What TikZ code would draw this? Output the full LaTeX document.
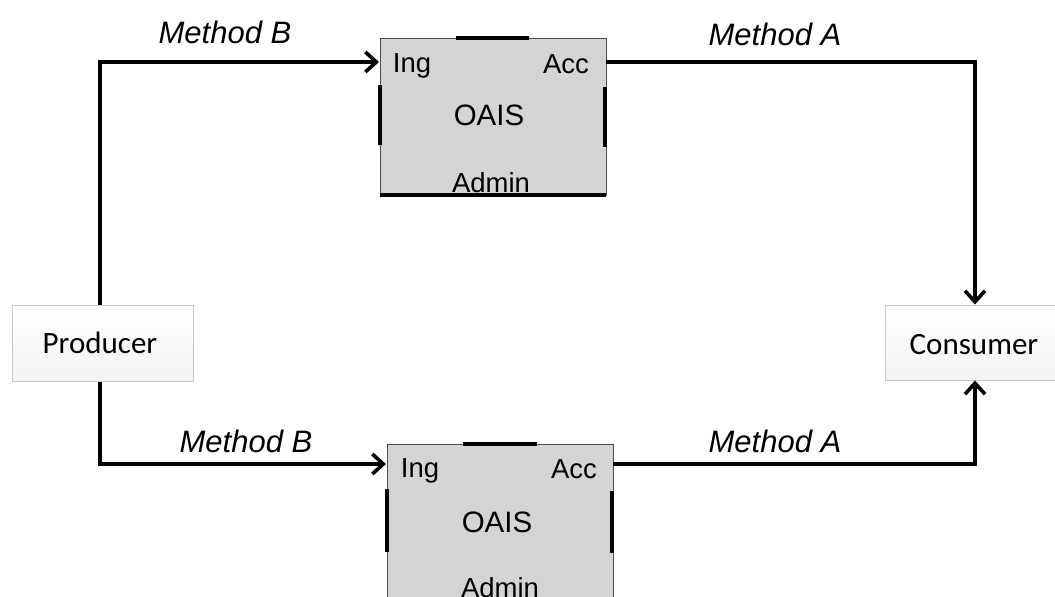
\documentclass[tikz,border=0pt]{standalone}
\usepackage{fontspec}
\setmainfont{Liberation Sans}
\newfontfamily\calib{Carlito}
\usetikzlibrary{arrows.meta}
\definecolor{oaisfill}{RGB}{212,212,212}
\definecolor{boxfill}{RGB}{244,244,244}
\definecolor{boxedge}{RGB}{200,200,200}
\begin{document}
\begin{tikzpicture}[x=1pt,y=-1pt,
  conn/.style={line width=3.6pt,line join=miter},
  arr/.style={conn,-{Straight Barb[length=11pt,width=20pt]}},
  oais/.style={draw=black!70,line width=1pt,fill=oaisfill,minimum width=226pt,minimum height=157pt,inner sep=0pt},
  oaisb/.style={draw=black!70,line width=1pt,fill=oaisfill,minimum width=226pt,minimum height=180pt,inner sep=0pt},
  thick seg/.style={line width=3.6pt,black},
  inner/.style={font=\fontsize{27.5}{30}\selectfont,anchor=base,inner sep=0pt},
  meth/.style={font=\fontsize{31}{34}\selectfont\itshape,anchor=base,inner sep=0pt},
  actor/.style={draw=boxedge,line width=1pt,top color=white,bottom color=boxfill,inner sep=0pt},
  actortext/.style={font=\calib\fontsize{31}{33}\selectfont,anchor=base,inner sep=0pt}
]
\useasboundingbox (0,0) rectangle (1055,597);
\clip (0,0) rectangle (1055,597);
\fill[white] (0,0) rectangle (1055,597);

% actors
\node[actor,minimum width=181pt,minimum height=76pt] (prod) at (102.5,343) {};
\node[actortext] (prodt) at (100,353) {Producer};
\node[actor,minimum width=185pt,minimum height=75pt] (cons) at (977.5,342.5) {};
\node[actortext] (const) at (974,354) {Consumer};

% top OAIS
\node[oais] (o1) at (493,116.5) {};
\draw[thick seg] (456,38) -- (529,38);
\draw[thick seg] (380,85) -- (380,145);
\draw[thick seg] (605,87) -- (605,147);
\draw[thick seg] (380,195) -- (606,195);
\node[inner] (ing1) at (412,72) {Ing};
\node[inner] (acc1) at (566,73) {Acc};
\node[inner,font=\fontsize{29.5}{32}\selectfont] (oa1) at (489,125) {OAIS};
\node[inner] (adm1) at (491,192) {Admin};

% bottom OAIS
\node[oaisb] (o2) at (500,534) {};
\draw[thick seg] (463,444) -- (537,444);
\draw[thick seg] (387,489) -- (387,552);
\draw[thick seg] (612,491) -- (612,553);
\node[inner] (ing2) at (420,477) {Ing};
\node[inner] (acc2) at (574,478) {Acc};
\node[inner,font=\fontsize{29.5}{32}\selectfont] (oa2) at (497,532) {OAIS};
\node[inner] (adm2) at (500,597) {Admin};

% connection points
\coordinate (in1) at (379,62);
\coordinate (out1) at (606,62);
\coordinate (in2) at (386,464);
\coordinate (out2) at (613,464);

% connectors
\draw[arr] (prod.north -| 100,0) |- (in1);
\draw[arr] (out1) -| (cons.north -| 975,0);
\draw[arr] (prod.south -| 100,0) |- (in2);
\draw[arr] (out2) -| (cons.south -| 975,0);

% labels
\node[meth] (mb1) at (225,43) {Method B};
\node[meth] (ma1) at (775,45) {Method A};
\node[meth] (mb2) at (246,452) {Method B};
\node[meth] (ma2) at (775,452) {Method A};
\end{tikzpicture}
\end{document}
